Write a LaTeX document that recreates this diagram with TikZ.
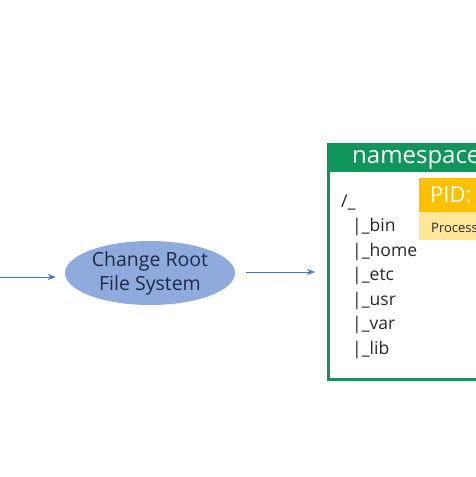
\documentclass[tikz,border=0pt]{standalone}
\usepackage{fontspec}
\setmainfont{Open Sans}
\usetikzlibrary{positioning,arrows.meta,shapes.geometric}
\definecolor{ellblue}{RGB}{143,170,220}
\definecolor{arrowblue}{RGB}{68,114,196}
\definecolor{nsgreen}{RGB}{16,150,90}
\definecolor{pidorange}{RGB}{255,192,0}
\definecolor{proclight}{RGB}{255,230,153}
\definecolor{txtnavy}{RGB}{31,42,68}
\definecolor{txtgray}{RGB}{40,40,40}

\begin{document}
\begin{tikzpicture}[x=1pt,y=-1pt,
   flow/.style={->,draw=arrowblue,line width=0.9pt},
   tree/.style={anchor=west,inner sep=0pt,text=txtgray,font=\fontsize{17.5}{20}\selectfont},
   >={Stealth[length=8pt,width=6pt]}]
   \clip (0,0) rectangle (476,477);
   \fill[white] (0,0) rectangle (476,477);
   % chroot step
   \node[ellipse,fill=ellblue,minimum width=170pt,minimum height=64pt,align=center,inner sep=0pt,
         text=txtnavy,font=\fontsize{19.5}{24}\selectfont] (chroot) at (150,273) {Change Root\\File System};
   \coordinate (src) at (0,277);
   \coordinate (nsin) at (315,272);
   % namespace box
   \node[draw=nsgreen,line width=2.6pt,minimum width=170pt,minimum height=235pt,
         anchor=north west,inner sep=0pt] (ns) at (327,143) {};
   \node[fill=nsgreen,minimum width=170pt,minimum height=29pt,anchor=north west,
         inner sep=0pt] (ns_head) at (327,143) {};
   \node[anchor=west,inner sep=0pt,text=white,font=\fontsize{24}{26}\selectfont] (ns_label) at (352,160) {namespace};
   % pid box
   \node[fill=pidorange,minimum width=70pt,minimum height=34pt,anchor=north west,inner sep=0pt] (pid) at (419,178) {};
   \node[anchor=west,inner sep=0pt,text=white,font=\fontsize{22}{24}\selectfont] (pid_label) at (430,195) {PID:};
   \node[fill=proclight,minimum width=70pt,minimum height=28pt,anchor=north west,inner sep=0pt] (proc) at (419,212) {};
   \node[anchor=west,inner sep=0pt,text=txtgray,font=\fontsize{13}{15}\selectfont] (proc_label) at (431,228) {Process};
   % root tree
   \node[tree] (t_root) at (341,203) {/\_};
   \node[tree] (t_bin) at (352,227) {|\_bin};
   \node[tree] (t_home) at (352,252) {|\_home};
   \node[tree] (t_etc) at (352,276) {|\_etc};
   \node[tree] (t_usr) at (352,301) {|\_usr};
   \node[tree] (t_var) at (352,325) {|\_var};
   \node[tree] (t_lib) at (352,350) {|\_lib};
   \path (src) edge[flow,shorten >=9pt] (src -| chroot.west)
         (chroot.east |- nsin) edge[flow,shorten <=11pt] (nsin);
\end{tikzpicture}
\end{document}
